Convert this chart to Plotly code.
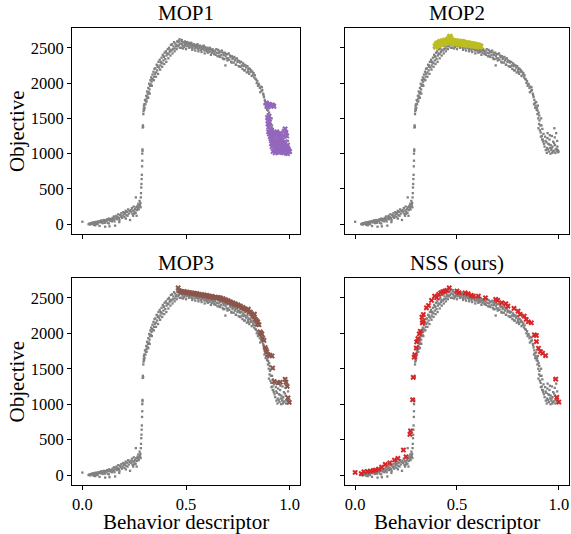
import plotly.graph_objects as go
from plotly.subplots import make_subplots

# ---- archive of all solutions (gray), shared by every panel ----
gray_x = [
    0.000, 0.030, 0.034, 0.038, 0.041, 0.044, 0.047, 0.050, 0.052, 0.055, 0.058, 0.060, 0.063, 0.066, 0.068, 0.071, 0.074, 0.077, 0.080, 0.083,
    0.086, 0.089, 0.092, 0.095, 0.098, 0.101, 0.104, 0.107, 0.110, 0.113, 0.116, 0.119, 0.122, 0.125, 0.128, 0.131, 0.134, 0.137, 0.140, 0.143,
    0.146, 0.149, 0.152, 0.155, 0.158, 0.161, 0.164, 0.167, 0.170, 0.173, 0.176, 0.179, 0.182, 0.185, 0.188, 0.191, 0.194, 0.197, 0.200, 0.203,
    0.206, 0.209, 0.212, 0.215, 0.218, 0.221, 0.224, 0.227, 0.230, 0.233, 0.236, 0.239, 0.242, 0.245, 0.248, 0.251, 0.254, 0.257, 0.260, 0.263,
    0.266, 0.268, 0.270, 0.272, 0.274, 0.276, 0.278, 0.280, 0.281, 0.258, 0.262, 0.245, 0.128, 0.155, 0.178, 0.108, 0.072, 0.062, 0.210, 0.250,
    0.282, 0.283, 0.284, 0.285, 0.286, 0.287, 0.288, 0.289, 0.289, 0.290, 0.290, 0.291, 0.292, 0.293, 0.294, 0.295, 0.296, 0.297, 0.298, 0.299,
    0.300, 0.302, 0.304, 0.306, 0.308, 0.310, 0.312, 0.314, 0.316, 0.318, 0.320, 0.322, 0.324, 0.326, 0.328, 0.330, 0.332, 0.334, 0.336, 0.338,
    0.340, 0.343, 0.346, 0.349, 0.352, 0.355, 0.358, 0.361, 0.364, 0.367, 0.370, 0.373, 0.376, 0.379, 0.382, 0.385, 0.388, 0.391, 0.394, 0.397,
    0.400, 0.403, 0.406, 0.409, 0.412, 0.415, 0.418, 0.421, 0.424, 0.427, 0.430, 0.433, 0.436, 0.439, 0.442, 0.445, 0.448, 0.451, 0.454, 0.457,
    0.310, 0.325, 0.335, 0.345, 0.355, 0.365, 0.375, 0.385, 0.395, 0.405, 0.415, 0.425, 0.435, 0.445, 0.318, 0.332, 0.348, 0.362, 0.378, 0.392,
    0.460, 0.463, 0.466, 0.469, 0.472, 0.475, 0.478, 0.481, 0.484, 0.487, 0.490, 0.493, 0.496, 0.499, 0.502, 0.505, 0.508, 0.511, 0.514, 0.517,
    0.520, 0.523, 0.526, 0.529, 0.532, 0.535, 0.538, 0.541, 0.544, 0.547, 0.550, 0.553, 0.556, 0.559, 0.562, 0.565, 0.568, 0.571, 0.574, 0.577,
    0.580, 0.583, 0.586, 0.589, 0.592, 0.595, 0.598, 0.601, 0.604, 0.607, 0.610, 0.613, 0.616, 0.619, 0.622, 0.625, 0.628, 0.631, 0.634, 0.637,
    0.455, 0.470, 0.485, 0.500, 0.515, 0.530, 0.545, 0.560, 0.575, 0.590, 0.605, 0.620, 0.635, 0.465, 0.495, 0.525, 0.555, 0.585, 0.615, 0.480,
    0.640, 0.643, 0.646, 0.649, 0.652, 0.655, 0.658, 0.661, 0.664, 0.667, 0.670, 0.673, 0.676, 0.679, 0.682, 0.685, 0.688, 0.691, 0.694, 0.697,
    0.700, 0.703, 0.706, 0.709, 0.712, 0.715, 0.718, 0.721, 0.724, 0.727, 0.730, 0.733, 0.736, 0.739, 0.742, 0.745, 0.748, 0.751, 0.754, 0.757,
    0.760, 0.763, 0.766, 0.769, 0.772, 0.775, 0.778, 0.781, 0.784, 0.787, 0.790, 0.793, 0.796, 0.799, 0.802, 0.805, 0.808, 0.811, 0.814, 0.817,
    0.820, 0.823, 0.826, 0.829, 0.832, 0.835, 0.838, 0.841, 0.844, 0.847, 0.850, 0.660, 0.680, 0.700, 0.720, 0.740, 0.760, 0.780, 0.800, 0.690,
    0.852, 0.856, 0.860, 0.864, 0.868, 0.872, 0.876, 0.880, 0.883, 0.886, 0.889, 0.891, 0.893, 0.895, 0.897, 0.899, 0.901, 0.903, 0.905, 0.907,
    0.909, 0.911, 0.913, 0.915, 0.917, 0.919, 0.921, 0.923, 0.925, 0.927, 0.858, 0.874, 0.884, 0.896, 0.904, 0.912, 0.900, 0.918, 0.866, 0.878,
    0.930, 0.933, 0.936, 0.939, 0.942, 0.945, 0.948, 0.951, 0.954, 0.957, 0.960, 0.963, 0.966, 0.969, 0.972, 0.975, 0.978, 0.981, 0.984, 0.987,
    0.990, 0.993, 0.996, 0.999, 0.935, 0.941, 0.947, 0.953, 0.959, 0.965, 0.971, 0.977, 0.983, 0.989, 0.995, 0.944, 0.956, 0.968, 0.980, 0.992,
]
gray_y = [
    35, 0, 10, -5, 15, 5, 20, 10, 25, -10, 15, 30, 5, 20, 35, 25, 10, 40, 30, -25,
    45, 25, 55, 35, 15, 50, 60, 30, -35, 55, 45, 70, 20, 60, 80, -30, 50, 75, 65, 40,
    90, 60, 110, 75, -20, 95, 120, 70, 100, 140, 85, 60, 130, 110, 155, 90, 120, 170, 140, 100,
    160, 190, 130, 175, 120, 210, 150, 185, 60, 200, 170, 230, 145, 195, 250, 180, 215, 160, 240, 200,
    260, 230, 290, 210, 250, 330, 270, 300, 240, 380, 120, 120, 10, 40, 30, 20, 0, -15, 80, 150,
    380, 440, 520, 570, 640, 700, 820, 900, 1000, 1040, 1060, 1370, 1400, 1380, 1560, 1600, 1640, 1680, 1620, 1700,
    1650, 1760, 1700, 1740, 1820, 1780, 1880, 1810, 1850, 1930, 1870, 1990, 1910, 1960, 2040, 1980, 2080, 2020, 2060, 2120,
    2050, 2160, 2090, 2130, 2210, 2150, 2260, 2180, 2230, 2300, 2220, 2330, 2250, 2290, 2360, 2280, 2400, 2320, 2370, 2430,
    2340, 2450, 2390, 2420, 2480, 2410, 2500, 2440, 2470, 2540, 2460, 2550, 2480, 2520, 2580, 2490, 2560, 2520, 2540, 2590,
    1740, 1850, 1960, 2040, 2090, 2130, 2190, 2230, 2270, 2300, 2350, 2390, 2420, 2450, 1790, 1970, 2200, 2250, 2300, 2380,
    2520, 2580, 2540, 2620, 2560, 2500, 2590, 2550, 2530, 2580, 2510, 2570, 2540, 2560, 2520, 2580, 2550, 2530, 2570, 2510,
    2550, 2530, 2560, 2500, 2540, 2520, 2550, 2490, 2530, 2510, 2540, 2500, 2530, 2480, 2520, 2500, 2530, 2470, 2510, 2490,
    2520, 2480, 2500, 2460, 2510, 2470, 2490, 2450, 2500, 2470, 2480, 2440, 2490, 2460, 2470, 2430, 2480, 2450, 2460, 2420,
    2480, 2500, 2490, 2480, 2500, 2470, 2460, 2450, 2440, 2420, 2430, 2400, 2410, 2600, 2590, 2570, 2550, 2530, 2500, 2610,
    2450, 2400, 2480, 2430, 2380, 2470, 2420, 2450, 2370, 2440, 2400, 2460, 2360, 2430, 2400, 2340, 2430, 2380, 2410, 2350,
    2410, 2350, 2420, 2330, 2390, 2370, 2300, 2380, 2340, 2360, 2290, 2370, 2320, 2340, 2260, 2350, 2300, 2320, 2240, 2310,
    2290, 2230, 2300, 2250, 2200, 2280, 2240, 2260, 2180, 2250, 2220, 2150, 2240, 2190, 2210, 2130, 2200, 2160, 2180, 2100,
    2160, 2120, 2140, 2080, 2110, 2060, 2050, 2000, 2030, 1960, 1990, 2380, 2340, 2320, 2290, 2260, 2230, 2180, 2160, 2250,
    1980, 1930, 1950, 1890, 1900, 1850, 1800, 1760, 1720, 1680, 1730, 1620, 1650, 1560, 1680, 1500, 1580, 1420, 1470, 1330,
    1400, 1300, 1500, 1400, 1250, 1350, 1200, 1170, 1280, 1140, 1870, 1830, 1650, 1610, 1540, 1240, 1360, 1200, 1940, 1700,
    1100, 1240, 1050, 1160, 1080, 1290, 1140, 1030, 1200, 1080, 1120, 1050, 1250, 1100, 1170, 1040, 1360, 1120, 1060, 1290,
    1040, 1100, 1020, 1030, 1180, 1010, 1060, 1130, 1000, 1080, 1030, 1150, 1010, 1070, 1050, 1220, 1260, 1010, 1230, 1180,
]

# ---- solutions selected by each method ----
mop1_x = [
    0.888, 0.892, 0.896, 0.900, 0.905, 0.910, 0.915, 0.920, 0.924, 0.893, 0.897, 0.901, 0.895, 0.899, 0.903, 0.907, 0.911, 0.915, 0.919, 0.923,
    0.898, 0.902, 0.906, 0.910, 0.914, 0.918, 0.922, 0.926, 0.930, 0.934, 0.938, 0.942, 0.946, 0.950, 0.954, 0.958, 0.962, 0.966, 0.970, 0.974,
    0.978, 0.982, 0.986, 0.990, 0.994, 0.998, 0.915, 0.925, 0.935, 0.945, 0.955, 0.965, 0.975, 0.985, 0.995, 0.920, 0.930, 0.940, 0.950, 0.960,
    0.970, 0.980, 0.990, 0.928, 0.938, 0.948, 0.958, 0.968, 0.978, 0.988, 0.912, 0.922, 0.932, 0.942, 0.952, 0.962, 0.972, 0.982, 0.992, 1.000,
]
mop1_y = [
    1720, 1690, 1660, 1700, 1690, 1680, 1690, 1680, 1670, 1510, 1480, 1530, 1420, 1380, 1450, 1350, 1320, 1300, 1280, 1260,
    1310, 1280, 1240, 1210, 1180, 1230, 1150, 1200, 1300, 1260, 1310, 1170, 1280, 1240, 1290, 1220, 1160, 1200, 1260, 1320,
    1350, 1300, 1250, 1120, 1060, 1030, 1100, 1070, 1120, 1050, 1090, 1040, 1080, 1030, 1040, 1030, 1010, 1050, 1020, 1060,
    1010, 1060, 1000, 1150, 1190, 1140, 1110, 1130, 1170, 1080, 1140, 1110, 1080, 1020, 1160, 1090, 1120, 1010, 1050, 1030,
]

mop2_x = [
    0.392, 0.398, 0.404, 0.410, 0.416, 0.422, 0.428, 0.434, 0.440, 0.446, 0.452, 0.458, 0.462, 0.466, 0.470, 0.476, 0.482, 0.488, 0.494, 0.500,
    0.506, 0.512, 0.518, 0.524, 0.530, 0.536, 0.542, 0.548, 0.554, 0.560, 0.566, 0.572, 0.578, 0.584, 0.590, 0.596, 0.602, 0.608, 0.614, 0.618,
    0.395, 0.401, 0.407, 0.413, 0.419, 0.425, 0.431, 0.437, 0.443, 0.449, 0.455, 0.461, 0.467, 0.473, 0.479, 0.485, 0.491, 0.497, 0.503, 0.509,
    0.515, 0.521, 0.527, 0.533, 0.539, 0.545, 0.551, 0.557, 0.563, 0.569, 0.575, 0.581, 0.587, 0.593, 0.599, 0.605, 0.611, 0.464, 0.470, 0.438,
    0.400, 0.412, 0.424, 0.436, 0.448, 0.460, 0.472, 0.484, 0.496, 0.508, 0.520, 0.532, 0.544, 0.556, 0.568, 0.580, 0.592, 0.604, 0.452, 0.476,
]
mop2_y = [
    2525, 2555, 2570, 2575, 2590, 2585, 2600, 2595, 2610, 2605, 2615, 2630, 2655, 2665, 2640, 2610, 2605, 2600, 2600, 2595,
    2590, 2595, 2585, 2590, 2585, 2580, 2575, 2570, 2570, 2565, 2560, 2560, 2555, 2550, 2550, 2545, 2540, 2535, 2530, 2520,
    2505, 2520, 2530, 2540, 2550, 2545, 2560, 2550, 2570, 2560, 2575, 2580, 2590, 2570, 2560, 2575, 2555, 2560, 2550, 2565,
    2550, 2560, 2545, 2555, 2540, 2550, 2535, 2540, 2530, 2535, 2525, 2530, 2520, 2525, 2515, 2520, 2510, 2620, 2600, 2580,
    2540, 2560, 2575, 2585, 2595, 2600, 2610, 2590, 2585, 2580, 2575, 2570, 2560, 2555, 2545, 2540, 2535, 2525, 2600, 2585,
]

mop3_x = [
    0.462, 0.468, 0.474, 0.480, 0.486, 0.492, 0.498, 0.504, 0.510, 0.516, 0.522, 0.528, 0.534, 0.540, 0.546, 0.552, 0.558, 0.564, 0.570, 0.576,
    0.582, 0.588, 0.594, 0.600, 0.606, 0.612, 0.618, 0.624, 0.630, 0.636, 0.642, 0.648, 0.654, 0.660, 0.666, 0.672, 0.678, 0.684, 0.690, 0.696,
    0.702, 0.708, 0.714, 0.720, 0.726, 0.732, 0.738, 0.744, 0.750, 0.756, 0.762, 0.768, 0.774, 0.780, 0.786, 0.792, 0.798, 0.804, 0.810, 0.816,
    0.822, 0.828, 0.834, 0.840, 0.846, 0.852, 0.858, 0.862, 0.866, 0.870, 0.876, 0.882, 0.886, 0.890, 0.896, 0.905, 0.915, 0.918, 0.925, 0.945,
    0.955, 0.978, 0.982, 0.988, 0.992, 0.998, 0.830, 0.845, 0.800,
]
mop3_y = [
    2640, 2600, 2590, 2585, 2580, 2590, 2575, 2580, 2570, 2575, 2565, 2570, 2560, 2565, 2555, 2560, 2545, 2550, 2540, 2545,
    2535, 2540, 2530, 2535, 2520, 2525, 2515, 2520, 2510, 2505, 2510, 2500, 2505, 2495, 2500, 2480, 2490, 2470, 2475, 2455,
    2460, 2440, 2445, 2425, 2430, 2410, 2415, 2395, 2400, 2380, 2385, 2360, 2365, 2345, 2340, 2320, 2330, 2295, 2300, 2275,
    2250, 2230, 2200, 2180, 2160, 2120, 2020, 2000, 1990, 1930, 1900, 1800, 1770, 1740, 1700, 1690, 1680, 1510, 1320, 1300,
    1310, 1350, 1310, 1250, 1090, 1025, 2270, 2130, 2340,
]

nss_x = [
    0.000, 0.030, 0.043, 0.060, 0.075, 0.090, 0.100, 0.115, 0.130, 0.148, 0.170, 0.193, 0.210, 0.237, 0.250, 0.269, 0.272, 0.282, 0.285, 0.290,
    0.293, 0.300, 0.302, 0.308, 0.315, 0.320, 0.330, 0.333, 0.328, 0.335, 0.350, 0.360, 0.375, 0.390, 0.400, 0.410, 0.420, 0.430, 0.440, 0.450,
    0.462, 0.500, 0.510, 0.540, 0.555, 0.570, 0.580, 0.605, 0.640, 0.690, 0.700, 0.720, 0.740, 0.750, 0.780, 0.800, 0.810, 0.830, 0.840, 0.850,
    0.865, 0.880, 0.890, 0.890, 0.900, 0.910, 0.920, 0.935, 0.985, 0.990, 1.000,
]
nss_y = [
    37, 20, 47, 50, 57, 65, 71, 85, 113, 150, 173, 212, 236, 354, 259, 575, 623, 1062, 1379, 1663,
    1699, 1793, 1878, 1925, 1991, 2029, 2147, 2170, 2227, 2265, 2359, 2392, 2464, 2525, 2501, 2549, 2572, 2586, 2596, 2605,
    2640, 2596, 2572, 2570, 2558, 2535, 2525, 2525, 2500, 2478, 2464, 2431, 2417, 2384, 2351, 2313, 2266, 2242, 2195, 2162,
    2148, 1978, 1969, 1883, 1789, 1742, 1718, 1685, 1354, 1095, 1029,
]

panel_titles = ["MOP1", "MOP2", "MOP3", "NSS (ours)"]
panel_colors = ["#9467bd", "#bcbd22", "#8c564b", "#d62728"]
panel_points = [(mop1_x, mop1_y), (mop2_x, mop2_y), (mop3_x, mop3_y), (nss_x, nss_y)]

x_ticks = [0.0, 0.5, 1.0]
x_tick_text = ["0.0", "0.5", "1.0"]
y_ticks = [0, 500, 1000, 1500, 2000, 2500]
x_label = "Behavior descriptor"
y_label = "Objective"

FONT = "Liberation Serif"

fig = make_subplots(rows=2, cols=2, shared_xaxes=True, shared_yaxes=True)

for i, (sel_x, sel_y) in enumerate(panel_points):
    r, c = i // 2 + 1, i % 2 + 1
    fig.add_trace(go.Scatter(
        x=gray_x, y=gray_y, mode="markers",
        marker=dict(symbol="square", size=2.3, color="#808080", line=dict(width=0)),
        showlegend=False, hoverinfo="skip"), row=r, col=c)
    fig.add_trace(go.Scatter(
        x=sel_x, y=sel_y, mode="markers",
        marker=dict(symbol="x", size=5, color=panel_colors[i], line=dict(width=0)),
        showlegend=False), row=r, col=c)

# panel placement (paper coordinates)
x_domains = [[0.0, 0.457], [0.547, 0.996]]
y_domains = [[0.549, 1.0], [0.0, 0.453]]

axis_common = dict(
    showline=True, linecolor="black", linewidth=1, mirror=True,
    ticks="outside", ticklen=4, tickwidth=1, tickcolor="black",
    showgrid=False, zeroline=False,
    tickfont=dict(family=FONT, size=16.5, color="black"),
)

for i in range(4):
    r, c = i // 2, i % 2
    n = "" if i == 0 else str(i + 1)
    fig.layout["xaxis" + n].update(
        domain=x_domains[c], range=[-0.05, 1.05],
        tickvals=x_ticks, ticktext=x_tick_text,
        showticklabels=(r == 1), **axis_common)
    fig.layout["yaxis" + n].update(
        domain=y_domains[r], range=[-140, 2780],
        tickvals=y_ticks, showticklabels=(c == 0), **axis_common)
    fig.add_annotation(
        text=panel_titles[i], xref="paper", yref="paper",
        x=sum(x_domains[c]) / 2, y=y_domains[r][1],
        xanchor="center", yanchor="bottom", yshift=1, showarrow=False,
        font=dict(family=FONT, size=21, color="black"))
    if r == 1:
        fig.add_annotation(
            text=x_label, xref="paper", yref="paper",
            x=sum(x_domains[c]) / 2, y=0, yshift=-37,
            xanchor="center", yanchor="middle", showarrow=False,
            font=dict(family=FONT, size=21, color="black"))
    if c == 0:
        fig.add_annotation(
            text=y_label, xref="paper", yref="paper", textangle=-90,
            x=0, y=sum(y_domains[r]) / 2, xshift=-55,
            xanchor="center", yanchor="middle", showarrow=False,
            font=dict(family=FONT, size=21, color="black"))

fig.update_layout(
    width=571, height=534,
    margin=dict(l=72, r=0, t=28, b=49),
    paper_bgcolor="white", plot_bgcolor="white",
)

fig.write_html("out.html")
